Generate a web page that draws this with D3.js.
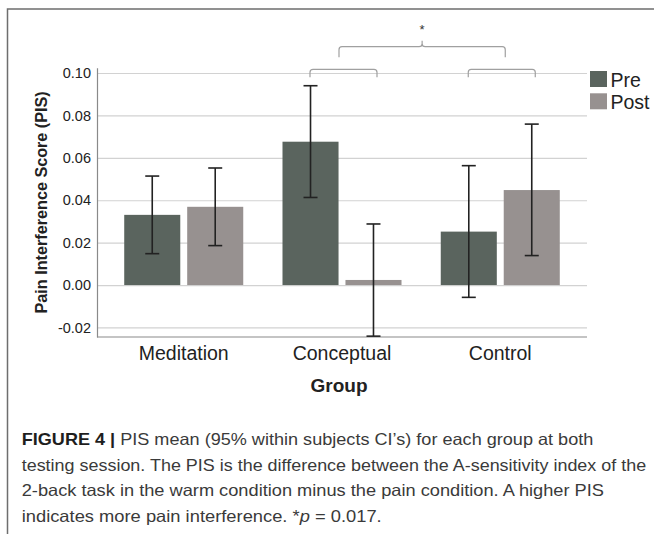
<!DOCTYPE html>
<html>
<head>
<meta charset="utf-8">
<script src="https://cdn.jsdelivr.net/npm/d3@7"></script>
<style>
  body { margin: 0; background: #fff; }
  text { font-family: "Liberation Sans", Arial, Helvetica, sans-serif; }
</style>
</head>
<body>
<svg width="654" height="534"></svg>
<script>
var groups = ["Meditation", "Conceptual", "Control"],
    sessions = ["Pre", "Post"],
    preMean = [0.0331, 0.0676, 0.0252],
    preLo = [0.0148, 0.0413, -0.0058],
    preHi = [0.0514, 0.0940, 0.0563],
    postMean = [0.0369, 0.0024, 0.0448],
    postLo = [0.0186, -0.0241, 0.0139],
    postHi = [0.0552, 0.0288, 0.0759],
    yTicks = [-0.02, 0, 0.02, 0.04, 0.06, 0.08, 0.10];

var captionLines = [
  "PIS mean (95% within subjects CI\u2019s) for each group at both",
  "testing session. The PIS is the difference between the A-sensitivity index of the",
  "2-back task in the warm condition minus the pain condition. A higher PIS",
  "indicates more pain interference. *"
];

var color = {Pre: "#5a645e", Post: "#979190"};

var svg = d3.select("svg"),
    plotL = 97, plotR = 587, plotT = 67.7, plotB = 337;

// frame round the figure
svg.append("path")
    .attr("d", "M7.5,534 V9 H654")
    .attr("fill", "none")
    .attr("stroke", "#6e6e6e")
    .attr("stroke-width", 1.5);

var x = d3.scaleBand().domain(groups).range([plotL, plotR])
    .paddingInner(0.248).paddingOuter(0.172);
var xs = d3.scaleBand().domain(sessions).range([0, x.bandwidth()])
    .paddingInner(0.11);
var y = d3.scaleLinear().domain([-0.0245, 0.1025]).range([plotB, plotT]);

var rows = [];
groups.forEach(function(g, i) {
  rows.push({group: g, session: "Pre", mean: preMean[i], lo: preLo[i], hi: preHi[i]});
  rows.push({group: g, session: "Post", mean: postMean[i], lo: postLo[i], hi: postHi[i]});
});

// gridlines
svg.append("g")
    .attr("transform", "translate(" + plotL + ",0)")
    .call(d3.axisLeft(y).tickValues(yTicks).tickSize(-(plotR - plotL)).tickFormat(""))
    .call(function(g) { g.select(".domain").remove(); })
    .selectAll("line").attr("stroke", "#d2d2d2").attr("stroke-width", 1.2);

// y axis (plain hyphen for negatives, like the original)
var fmt = d3.format(".2f");
var yAxis = svg.append("g")
    .attr("transform", "translate(" + plotL + ",0)")
    .call(d3.axisLeft(y).tickValues(yTicks).tickSize(0).tickPadding(6)
      .tickFormat(function(d) { return fmt(d).replace("\u2212", "-"); }));
yAxis.select(".domain").attr("stroke", "#8a8a8a").attr("stroke-width", 1.2);
yAxis.selectAll("text").attr("font-size", 14.5).attr("fill", "#222");

// x axis
var xAxis = svg.append("g")
    .attr("transform", "translate(0," + plotB + ")")
    .call(d3.axisBottom(x).tickSize(0).tickPadding(9));
xAxis.select(".domain").attr("d", "M" + plotL + ",0H" + plotR)
    .attr("stroke", "#8a8a8a").attr("stroke-width", 1.2);
xAxis.selectAll("text").attr("font-size", 19.5).attr("fill", "#222");

svg.append("text")
    .attr("x", (plotL + plotR) / 2 - 3)
    .attr("y", 391.5)
    .attr("text-anchor", "middle")
    .attr("font-size", 19)
    .attr("font-weight", "bold")
    .attr("fill", "#222")
    .text("Group");

svg.append("text")
    .attr("transform", "translate(46.5," + (plotT + plotB) / 2 + ") rotate(-90)")
    .attr("text-anchor", "middle")
    .attr("font-size", 16.2)
    .attr("font-weight", "bold")
    .attr("fill", "#222")
    .text("Pain Interference Score (PIS)");

// bars
svg.append("g").selectAll("rect")
  .data(rows)
  .enter().append("rect")
    .attr("x", function(d) { return x(d.group) + xs(d.session); })
    .attr("y", function(d) { return y(Math.max(0, d.mean)); })
    .attr("width", xs.bandwidth())
    .attr("height", function(d) { return Math.abs(y(d.mean) - y(0)); })
    .attr("fill", function(d) { return color[d.session]; });

// error bars
var err = svg.append("g").selectAll("g")
  .data(rows)
  .enter().append("g")
    .attr("stroke", "#222")
    .attr("stroke-width", 1.6)
    .attr("transform", function(d) { return "translate(" + (x(d.group) + xs(d.session) + xs.bandwidth() / 2) + ",0)"; });
err.append("line")
    .attr("y1", function(d) { return y(d.lo); })
    .attr("y2", function(d) { return y(d.hi); });
err.append("line").attr("x1", -7).attr("x2", 7)
    .attr("y1", function(d) { return y(d.hi); }).attr("y2", function(d) { return y(d.hi); });
err.append("line").attr("x1", -7).attr("x2", 7)
    .attr("y1", function(d) { return y(d.lo); }).attr("y2", function(d) { return y(d.lo); });

// significance brackets
function bracket(x1, x2, yTop, drop, mid) {
  var r = 3;
  var p = "M" + x1 + "," + (yTop + drop) + "V" + (yTop + r) + "Q" + x1 + "," + yTop + " " + (x1 + r) + "," + yTop;
  if (mid != null) {
    p += "H" + (mid - r) + "Q" + mid + "," + yTop + " " + mid + "," + (yTop - r) +
         "V" + (yTop - 6) + "M" + mid + "," + (yTop - r) + "Q" + mid + "," + yTop + " " + (mid + r) + "," + yTop;
  }
  p += "H" + (x2 - r) + "Q" + x2 + "," + yTop + " " + x2 + "," + (yTop + r) + "V" + (yTop + drop);
  return p;
}
var br = svg.append("g").attr("fill", "none").attr("stroke", "#a0a0a0").attr("stroke-width", 1.2);
["Conceptual", "Control"].forEach(function(g) {
  var c = x(g) + x.bandwidth() / 2;
  br.append("path").attr("d", bracket(c - 32, c + 35, y(0.1025) + 1.6, 8));
});
var c1 = x("Conceptual") + x.bandwidth() / 2 - 3,
    c2 = x("Control") + x.bandwidth() / 2 + 5;
br.append("path").attr("d", bracket(c1, c2, 46.7, 10.5, (c1 + c2) / 2));
svg.append("text")
    .attr("x", (c1 + c2) / 2)
    .attr("y", 34)
    .attr("text-anchor", "middle")
    .attr("font-size", 13)
    .attr("fill", "#333")
    .text("*");

// legend
var legend = svg.append("g").selectAll("g")
  .data(sessions)
  .enter().append("g")
    .attr("transform", function(d, i) { return "translate(590," + (71 + i * 22.3) + ")"; });
legend.append("rect").attr("width", 17).attr("height", 16)
    .attr("fill", function(d) { return color[d]; });
legend.append("text").attr("x", 20.5).attr("y", 15.5)
    .attr("font-size", 19.5).attr("fill", "#222")
    .text(function(d) { return d; });

// caption
var lineWidths = [571.6, 624.5, 582.3, 360];
var cap = svg.append("g").attr("font-size", 16.5).attr("fill", "#3a3a3a");
captionLines.forEach(function(t, i) {
  var tx = cap.append("text")
      .attr("x", 21.7)
      .attr("y", 445 + i * 25.6)
      .attr("textLength", lineWidths[i])
      .attr("lengthAdjust", "spacingAndGlyphs");
  if (i === 0) {
    tx.append("tspan").attr("font-weight", "bold").attr("fill", "#1e1e1e").text("FIGURE 4 | ");
  }
  tx.append("tspan").text(t);
  if (i === 3) {
    tx.append("tspan").attr("font-style", "italic").text("p");
    tx.append("tspan").text(" = 0.017.");
  }
});
</script>
</body>
</html>
